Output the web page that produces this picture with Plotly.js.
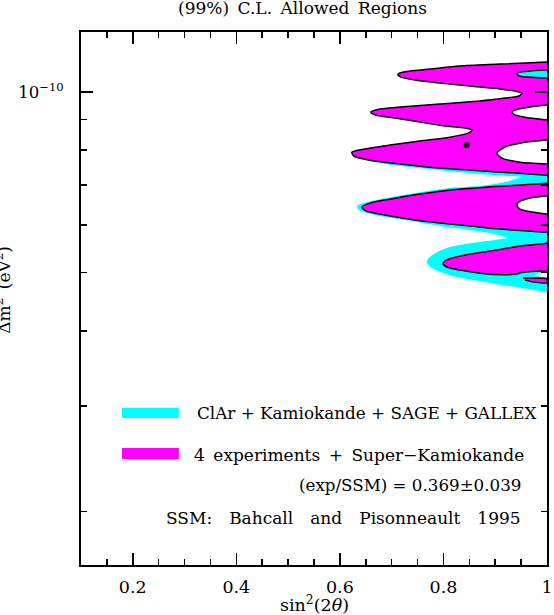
<!DOCTYPE html>
<html>
<head>
<meta charset="utf-8">
<script src="https://cdn.plot.ly/plotly-3.0.1.min.js"></script>
<style>
  html, body { margin: 0; padding: 0; background: #fff; }
  #chart { width: 554px; height: 615px; }
</style>
</head>
<body>
<div id="chart"></div>
<script>
// 99% C.L. allowed regions in the (sin^2 2theta, dm^2) plane

// ClAr + Kamiokande + SAGE + GALLEX (cyan)
const clarX = [1.0, 0.9092, 0.8319, 0.7739, 0.7353, 0.7159, 0.7121, 0.7179, 0.7449, 0.7932,
  0.8512, 0.9092, 0.9382, 0.9517, 0.9459, 0.9188, 0.8705, 0.7932, 0.7159, 0.6773,
  0.6599, 0.6676, 0.7063, 0.7546, 0.8029, 0.8415, 0.8551, 0.8473, 0.8126, 0.7546,
  0.6966, 0.6483, 0.6232, 0.6271, 0.6580, 0.7159, 0.7932, 0.8705, 0.9285, 0.9498,
  0.9188, 0.8705, 0.8126, 0.7546, 0.6966, 0.6541, 0.6329, 0.6367, 0.6676, 0.7353,
  0.7932, 0.8512, 0.8995, 0.9227, 0.8995, 0.8512, 0.8126, 0.7836, 0.7700, 0.7681,
  0.7778, 0.8126, 0.8705, 0.9285, 1.0];
const clarY = [11.22e-11, 11.13e-11, 11.05e-11, 10.92e-11, 10.84e-11, 10.76e-11, 10.67e-11, 10.59e-11, 10.47e-11, 10.35e-11,
  10.23e-11, 10.12e-11, 10.04e-11, 9.96e-11, 9.85e-11, 9.77e-11, 9.66e-11, 9.55e-11, 9.44e-11, 9.37e-11,
  9.26e-11, 9.16e-11, 9.05e-11, 8.91e-11, 8.78e-11, 8.71e-11, 8.64e-11, 8.54e-11, 8.41e-11, 8.29e-11,
  8.16e-11, 8.04e-11, 7.94e-11, 7.79e-11, 7.67e-11, 7.53e-11, 7.41e-11, 7.30e-11, 7.24e-11, 7.22e-11,
  7.08e-11, 6.97e-11, 6.92e-11, 6.81e-11, 6.68e-11, 6.56e-11, 6.46e-11, 6.36e-11, 6.24e-11, 6.10e-11,
  5.98e-11, 5.89e-11, 5.80e-11, 5.71e-11, 5.67e-11, 5.60e-11, 5.52e-11, 5.39e-11, 5.27e-11, 5.19e-11,
  5.09e-11, 4.95e-11, 4.84e-11, 4.75e-11, 4.64e-11];

// 4 experiments + Super-Kamiokande (magenta), three pieces + a sliver
const skUpperX = [1.0, 0.9092, 0.8319, 0.7739, 0.7353, 0.7159, 0.7121, 0.7179, 0.7449, 0.7932,
  0.8512, 0.9092, 0.9382, 0.9517, 0.9459, 0.9188, 0.8705, 0.7932, 0.7159, 0.6773,
  0.6599, 0.6676, 0.7063, 0.7546, 0.8029, 0.8415, 0.8551, 0.8473, 0.8126, 0.7546,
  0.6966, 0.6483, 0.6232, 0.6271, 0.6580, 0.7159, 0.7932, 0.8705, 0.9382, 1.0];
const skUpperY = [11.22e-11, 11.13e-11, 11.05e-11, 10.92e-11, 10.84e-11, 10.76e-11, 10.67e-11, 10.59e-11, 10.47e-11, 10.35e-11,
  10.23e-11, 10.12e-11, 10.04e-11, 9.96e-11, 9.85e-11, 9.77e-11, 9.66e-11, 9.55e-11, 9.44e-11, 9.37e-11,
  9.26e-11, 9.16e-11, 9.05e-11, 8.91e-11, 8.78e-11, 8.71e-11, 8.64e-11, 8.54e-11, 8.41e-11, 8.29e-11,
  8.16e-11, 8.04e-11, 7.94e-11, 7.82e-11, 7.70e-11, 7.59e-11, 7.47e-11, 7.39e-11, 7.33e-11, 7.27e-11];

const skMidX = [1.0, 0.9478, 0.8899, 0.8126, 0.7546, 0.6966, 0.6580, 0.6425, 0.6502, 0.6870,
  0.7353, 0.7932, 0.8512, 0.9092, 1.0];
const skMidY = [7.05e-11, 7.00e-11, 6.95e-11, 6.87e-11, 6.76e-11, 6.63e-11, 6.53e-11, 6.43e-11, 6.34e-11, 6.24e-11,
  6.14e-11, 6.05e-11, 5.98e-11, 5.91e-11, 5.84e-11];

const skLowX = [1.0, 0.9478, 0.8995, 0.8512, 0.8164, 0.8029, 0.7990, 0.8068, 0.8319, 0.8705,
  0.9188, 0.9382, 0.9536, 0.9768, 1.0];
const skLowY = [5.60e-11, 5.54e-11, 5.45e-11, 5.37e-11, 5.29e-11, 5.23e-11, 5.17e-11, 5.11e-11, 5.05e-11, 4.99e-11,
  4.96e-11, 4.97e-11, 5.01e-11, 5.03e-11, 5.03e-11];

const skSliverX = [0.9536, 0.9768, 1.0, 1.0, 0.9768, 0.9575];
const skSliverY = [4.90e-11, 4.90e-11, 4.88e-11, 4.81e-11, 4.82e-11, 4.86e-11];

// holes in the magenta region (first one is still inside the cyan region)
const holeCyanX = [1.0, 0.9671, 0.9478, 0.9420, 0.9478, 0.9671, 1.0];
const holeCyanY = [10.88e-11, 10.84e-11, 10.80e-11, 10.72e-11, 10.63e-11, 10.59e-11, 10.55e-11];
const holeBX = [1.0, 0.9671, 0.9382, 0.9324, 0.9382, 0.9671, 1.0];
const holeBY = [9.51e-11, 9.44e-11, 9.33e-11, 9.26e-11, 9.16e-11, 9.05e-11, 8.98e-11];
const holeCX = [1.0, 0.9575, 0.9188, 0.9034, 0.9130, 0.9478, 1.0];
const holeCY = [8.32e-11, 8.25e-11, 8.10e-11, 7.91e-11, 7.76e-11, 7.64e-11, 7.59e-11];
const holeDX = [1.0, 0.9671, 0.9459, 0.9420, 0.9478, 0.9710, 1.0];
const holeDY = [6.71e-11, 6.66e-11, 6.56e-11, 6.48e-11, 6.38e-11, 6.31e-11, 6.26e-11];
const gapX = [1.0, 0.9826, 0.9768, 0.9865, 1.0];
const gapY = [5.01e-11, 4.99e-11, 4.95e-11, 4.92e-11, 4.92e-11];

// best fit point
const bestX = [0.845];
const bestY = [8.16e-11];

const xTicks = [0.2, 0.4, 0.6, 0.8, 1];
const xTickText = ['0.2', '0.4', '0.6', '0.8', '1'];
const xMinor = [0.15, 0.25, 0.3, 0.35, 0.45, 0.5, 0.55, 0.65, 0.7, 0.75, 0.85, 0.9, 0.95];
const yTicks = [1e-10];
const yTickText = ['10<sup>\u221210</sup>'];
const yMinor = [2e-11, 3e-11, 4e-11, 5e-11, 6e-11, 7e-11, 8e-11, 9e-11];

const CYAN = '#00ffff';
const MAGENTA = '#ff00ff';
const SERIF = '"DejaVu Serif", "Liberation Serif", serif';
const EN = '\u2002';
const WIDE = '\u2002\u2002';

function region(x, y, fill, outline) {
    return {
        x, y,
        type: 'scatter',
        mode: 'lines',
        fill: 'toself',
        fillcolor: fill,
        line: { color: outline ? '#000' : fill, width: outline ? 1.5 : 0, shape: 'spline', smoothing: 0.7 },
        hoverinfo: 'skip',
        showlegend: false,
    };
}

const traces = [
    region(clarX, clarY, CYAN, false),
    region(skUpperX, skUpperY, MAGENTA, true),
    region(skMidX, skMidY, MAGENTA, true),
    region(skLowX, skLowY, MAGENTA, true),
    region(skSliverX, skSliverY, MAGENTA, true),
    region(gapX, gapY, '#ffffff', false),
    region(holeCyanX, holeCyanY, CYAN, true),
    region(holeBX, holeBY, '#ffffff', true),
    region(holeCX, holeCY, '#ffffff', true),
    region(holeDX, holeDY, '#ffffff', true),
    {
        x: bestX, y: bestY,
        type: 'scatter', mode: 'markers',
        marker: { color: '#000', size: 6 },
        hoverinfo: 'skip', showlegend: false,
    },
];

const font = (size) => ({ family: SERIF, size, color: '#000' });

function note(text, x, y, xanchor, size, extra) {
    return Object.assign({
        text, x, y, xanchor, yanchor: 'middle',
        xref: 'paper', yref: 'paper', showarrow: false, font: font(size),
    }, extra || {});
}

const layout = {
    width: 554,
    height: 615,
    margin: { l: 81, r: 7, t: 32, b: 50 },
    paper_bgcolor: '#fff',
    plot_bgcolor: '#fff',
    showlegend: false,
    font: font(16),
    xaxis: {
        range: [0.1, 1.0],
        tickmode: 'array', tickvals: xTicks, ticktext: xTickText,
        ticks: 'inside', ticklen: 12, tickwidth: 1.5, tickcolor: '#000',
        minor: { tickmode: 'array', tickvals: xMinor, ticks: 'inside', ticklen: 6, tickwidth: 1.5, tickcolor: '#000' },
        showline: true, linecolor: '#000', linewidth: 2, mirror: 'ticks',
        showgrid: false, zeroline: false,
        tickfont: font(17.5), ticklabelstandoff: 5,
    },
    yaxis: {
        type: 'log',
        range: [-10.788, -9.9],
        tickmode: 'array', tickvals: yTicks, ticktext: yTickText,
        ticks: 'inside', ticklen: 12, tickwidth: 1.5, tickcolor: '#000',
        minor: { tickmode: 'array', tickvals: yMinor, ticks: 'inside', ticklen: 6, tickwidth: 1.5, tickcolor: '#000' },
        showline: true, linecolor: '#000', linewidth: 2, mirror: 'ticks',
        showgrid: false, zeroline: false,
        tickfont: font(16.5), ticklabelstandoff: 12,
    },
    shapes: [
        { type: 'rect', xref: 'paper', yref: 'paper', x0: 0.088, x1: 0.210, y0: 0.276, y1: 0.295, fillcolor: CYAN, line: { width: 0 } },
        { type: 'rect', xref: 'paper', yref: 'paper', x0: 0.088, x1: 0.210, y0: 0.199, y1: 0.2195, fillcolor: MAGENTA, line: { width: 0 } },
    ],
    annotations: [
        note('(99%)' + EN + 'C.L.' + EN + 'Allowed' + EN + 'Regions', 0.475, 1.045, 'center', 17),
        note('sin<sup>2</sup>(2<i>\u03b8</i>)', 0.5, -0.073, 'center', 17.5),
        note('\u0394m<sup>2</sup>' + EN + '(eV<sup>2</sup>)', -0.168, 0.516, 'center', 17, { textangle: -90 }),
        note('ClAr + Kamiokande + SAGE + GALLEX', 0.2446, 0.2852, 'left', 16.8),
        note('4' + EN + 'experiments' + EN + '+' + EN + 'Super\u2212Kamiokande', 0.2382, 0.2064, 'left', 17),
        note('(exp/SSM) = 0.369\u00b10.039', 0.9485, 0.1501, 'right', 16.7),
        note('SSM:' + WIDE + 'Bahcall' + WIDE + 'and' + WIDE + 'Pisonneault' + WIDE + '1995', 0.9485, 0.0882, 'right', 17),
    ],
};

Plotly.newPlot('chart', traces, layout, { displayModeBar: false, staticPlot: true });
</script>
</body>
</html>
